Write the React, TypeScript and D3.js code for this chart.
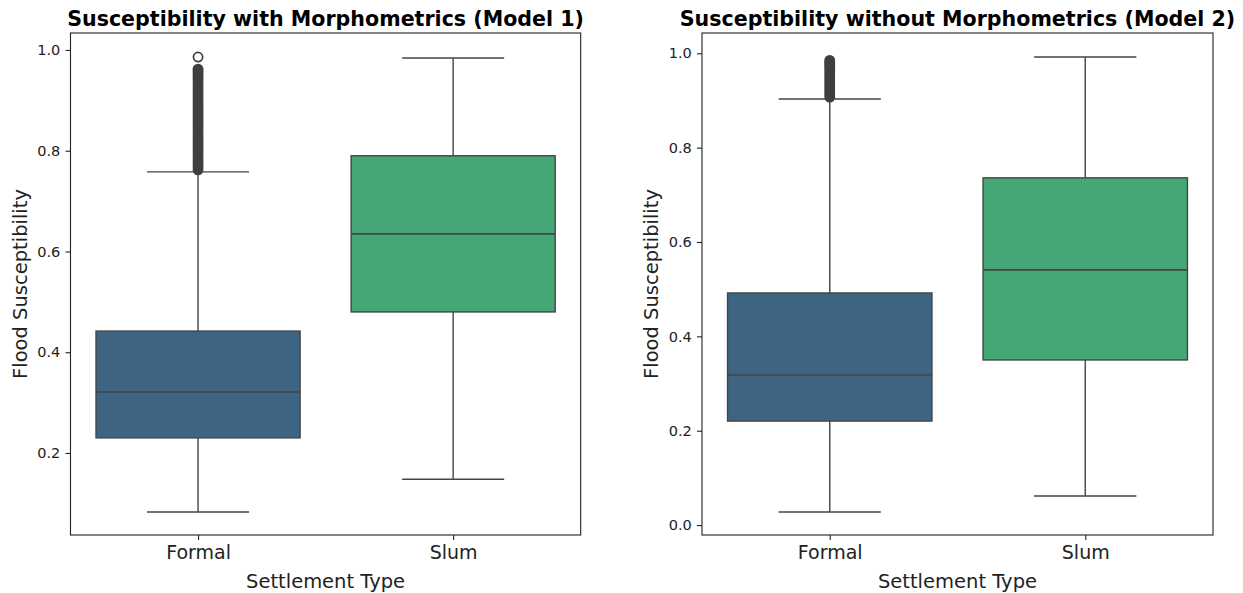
import React, { useEffect, useRef } from 'react';
import * as d3 from 'd3';

const CATEGORIES = ['Formal', 'Slum'];
const FILLS = ['#3d6583', '#45a776'];

// Model 1 (with morphometrics)
const M1_LO = [0.083, 0.148];
const M1_Q1 = [0.23, 0.48];
const M1_MED = [0.321, 0.635];
const M1_Q3 = [0.442, 0.79];
const M1_HI = [0.758, 0.984];
const M1_FORMAL_OUTLIERS = [
  0.762, 0.768, 0.774, 0.78, 0.786, 0.792, 0.798, 0.804, 0.81, 0.816, 0.822, 0.828,
  0.834, 0.84, 0.846, 0.852, 0.858, 0.864, 0.87, 0.876, 0.882, 0.888, 0.894, 0.9,
  0.906, 0.912, 0.918, 0.924, 0.93, 0.936, 0.942, 0.948, 0.953, 0.958, 0.962, 0.986,
];
const M1_Y_DOMAIN = [0.0372, 1.0337];
const M1_TICKS = [0.2, 0.4, 0.6, 0.8, 1.0];

// Model 2 (without morphometrics)
const M2_LO = [0.0276, 0.0617];
const M2_Q1 = [0.2205, 0.35];
const M2_MED = [0.318, 0.541];
const M2_Q3 = [0.492, 0.736];
const M2_HI = [0.903, 0.992];
const M2_FORMAL_OUTLIERS = [
  0.907, 0.913, 0.919, 0.925, 0.931, 0.937, 0.943, 0.949, 0.955, 0.961, 0.967,
  0.972, 0.977, 0.981, 0.985,
];
const M2_Y_DOMAIN = [-0.021, 1.043];
const M2_TICKS = [0.0, 0.2, 0.4, 0.6, 0.8, 1.0];

const FONT = 'DejaVu Sans, sans-serif';
const LINE = '#444444';

export default function App() {
  const ref = useRef<SVGSVGElement | null>(null);

  useEffect(() => {
    const svg = d3.select(ref.current);
    svg.selectAll('*').remove();

    const top = 33;
    const bottom = 535;

    function drawPanel(
      x0: number,
      x1: number,
      title: string,
      lo: number[],
      q1: number[],
      med: number[],
      q3: number[],
      hi: number[],
      outliers: number[],
      domain: number[],
      ticks: number[],
    ) {
      const g = svg.append('g');
      const x = d3.scaleLinear().domain([-0.5, 1.5]).range([x0, x1]);
      const y = d3.scaleLinear().domain(domain).range([bottom, top]);
      const unit = x(1) - x(0);
      const boxW = 0.8 * unit;
      const capW = 0.4 * unit;

      CATEGORIES.forEach((c, i) => {
        const cx = x(i);
        // whiskers
        g.append('line')
          .attr('x1', cx).attr('x2', cx)
          .attr('y1', y(q3[i])).attr('y2', y(hi[i]))
          .attr('stroke', LINE).attr('stroke-width', 1.4);
        g.append('line')
          .attr('x1', cx).attr('x2', cx)
          .attr('y1', y(q1[i])).attr('y2', y(lo[i]))
          .attr('stroke', LINE).attr('stroke-width', 1.4);
        [lo[i], hi[i]].forEach((v) => {
          g.append('line')
            .attr('x1', cx - capW / 2).attr('x2', cx + capW / 2)
            .attr('y1', y(v)).attr('y2', y(v))
            .attr('stroke', LINE).attr('stroke-width', 1.4);
        });
        // box
        g.append('rect')
          .attr('x', cx - boxW / 2)
          .attr('y', y(q3[i]))
          .attr('width', boxW)
          .attr('height', y(q1[i]) - y(q3[i]))
          .attr('fill', FILLS[i])
          .attr('stroke', LINE)
          .attr('stroke-width', 1.4);
        g.append('line')
          .attr('x1', cx - boxW / 2).attr('x2', cx + boxW / 2)
          .attr('y1', y(med[i])).attr('y2', y(med[i]))
          .attr('stroke', LINE).attr('stroke-width', 1.6);
      });

      // fliers (Formal) - where points pile up densely the hollow markers merge into a solid band
      const dense = (d: number) => outliers.some((o) => o !== d && Math.abs(o - d) < 0.012);
      g.selectAll('circle.flier')
        .data(outliers)
        .enter()
        .append('circle')
        .attr('cx', x(0))
        .attr('cy', (d) => y(d))
        .attr('r', 4.6)
        .attr('fill', (d) => (dense(d) ? '#3f3f3f' : 'none'))
        .attr('stroke', '#3f3f3f')
        .attr('stroke-width', 1.7);

      // frame
      g.append('rect')
        .attr('x', x0).attr('y', top)
        .attr('width', x1 - x0).attr('height', bottom - top)
        .attr('fill', 'none')
        .attr('stroke', '#222')
        .attr('stroke-width', 1.1);

      // y axis
      const ya = g.append('g').attr('transform', `translate(${x0},0)`);
      ya.call(d3.axisLeft(y).tickValues(ticks).tickFormat(d3.format('.1f')).tickSize(5).tickSizeOuter(0));
      ya.select('.domain').remove();
      ya.selectAll('.tick line').attr('stroke', '#222').attr('stroke-width', 1.1);
      ya.selectAll('.tick text').attr('font-family', FONT).attr('font-size', '14.5px').attr('fill', '#222').attr('dx', '-0.15em');

      // x axis
      const xa = g.append('g').attr('transform', `translate(0,${bottom})`);
      xa.call(d3.axisBottom(x).tickValues([0, 1]).tickFormat((d) => CATEGORIES[d as number]).tickSize(5).tickSizeOuter(0));
      xa.select('.domain').remove();
      xa.selectAll('.tick line').attr('stroke', '#222').attr('stroke-width', 1.1);
      xa.selectAll('.tick text').attr('font-family', FONT).attr('font-size', '19px').attr('fill', '#222').attr('dy', '0.85em');

      // labels
      g.append('text')
        .attr('x', (x0 + x1) / 2).attr('y', 588)
        .attr('text-anchor', 'middle')
        .attr('font-family', FONT).attr('font-size', '19.5px').attr('fill', '#222')
        .text('Settlement Type');
      g.append('text')
        .attr('transform', `translate(${x0 - 44},${(top + bottom) / 2}) rotate(-90)`)
        .attr('text-anchor', 'middle')
        .attr('font-family', FONT).attr('font-size', '19.5px').attr('fill', '#222')
        .text('Flood Susceptibility');
      g.append('text')
        .attr('x', (x0 + x1) / 2).attr('y', 26)
        .attr('text-anchor', 'middle')
        .attr('font-family', FONT).attr('font-size', '20.6px').attr('font-weight', 'bold').attr('fill', '#000')
        .text(title);
    }

    drawPanel(70.5, 580.7, 'Susceptibility with Morphometrics (Model 1)',
      M1_LO, M1_Q1, M1_MED, M1_Q3, M1_HI, M1_FORMAL_OUTLIERS, M1_Y_DOMAIN, M1_TICKS);
    drawPanel(702, 1213, 'Susceptibility without Morphometrics (Model 2)',
      M2_LO, M2_Q1, M2_MED, M2_Q3, M2_HI, M2_FORMAL_OUTLIERS, M2_Y_DOMAIN, M2_TICKS);
  }, []);

  return (
    <div style={{ position: 'absolute', left: 0, top: 0 }}>
      <svg ref={ref} width={1243} height={593} style={{ display: 'block', background: '#fff' }} />
    </div>
  );
}
